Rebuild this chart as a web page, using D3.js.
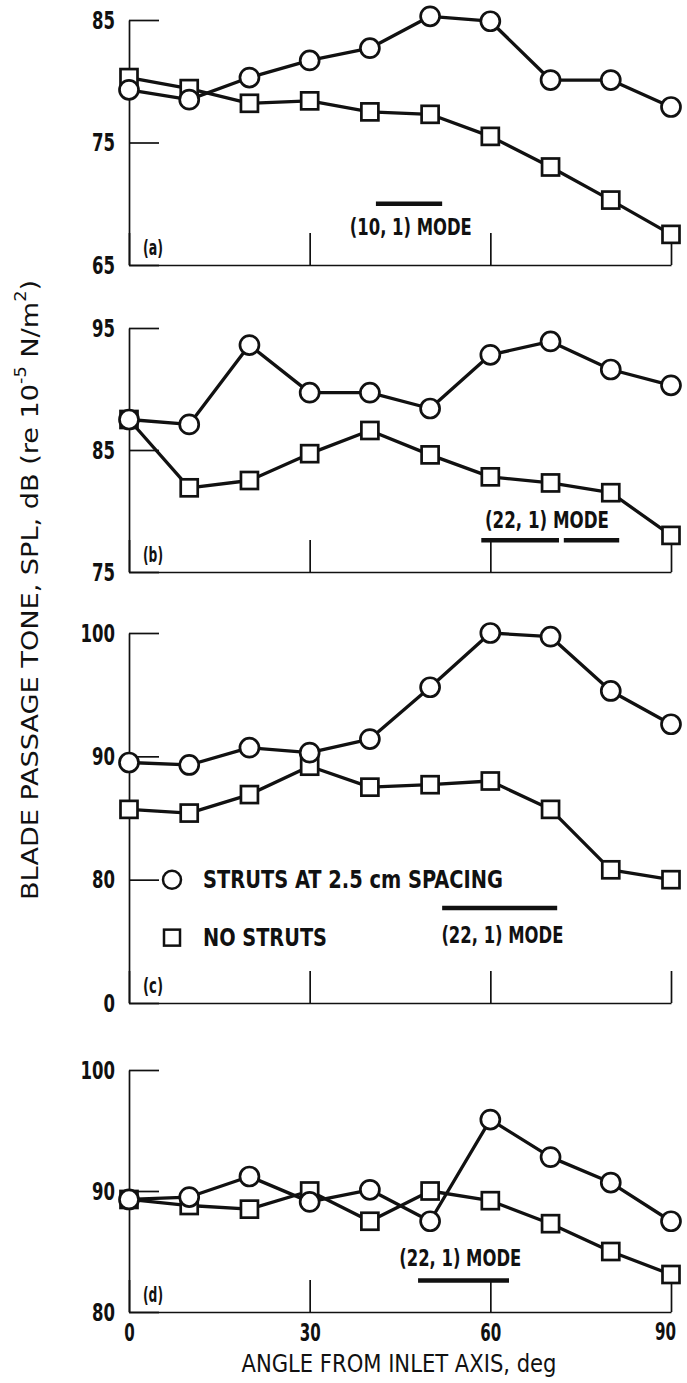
<!DOCTYPE html>
<html>
<head>
<meta charset="utf-8">
<script src="https://cdn.jsdelivr.net/npm/d3@7"></script>
<style>
  body { margin: 0; background: #fff; }
  svg text { font-family: "Liberation Sans Narrow", "DejaVu Sans Condensed", sans-serif; fill: #111; }
</style>
</head>
<body>
<div id="chart"></div>
<script>
// angle from inlet axis, deg
const angles = [0, 10, 20, 30, 40, 50, 60, 70, 80, 90];

// blade passage tone SPL, dB - struts at 2.5 cm spacing (circles) / no struts (squares)
const strutsA   = [79.3, 78.5, 80.3, 81.7, 82.7, 85.3, 84.9, 80.1, 80.1, 77.9];
const noStrutsA = [80.3, 79.4, 78.2, 78.4, 77.5, 77.3, 75.5, 73.0, 70.3, 67.5];
const strutsB   = [87.5, 87.1, 93.6, 89.7, 89.7, 88.4, 92.8, 93.9, 91.6, 90.3];
const noStrutsB = [87.5, 81.9, 82.5, 84.7, 86.6, 84.6, 82.8, 82.3, 81.5, 78.0];
const strutsC   = [89.5, 89.3, 90.7, 90.3, 91.4, 95.6, 100.0, 99.7, 95.3, 92.6];
const noStrutsC = [85.7, 85.4, 86.9, 89.2, 87.5, 87.7, 88.0, 85.7, 80.8, 80.0];
const strutsD   = [89.3, 89.5, 91.2, 89.1, 90.1, 87.5, 95.9, 92.8, 90.7, 87.5];
const noStrutsD = [89.3, 88.8, 88.5, 90.0, 87.5, 90.0, 89.2, 87.3, 85.0, 83.1];

// tick values and their printed labels
const xTicks = [0, 30, 60, 90];
const xTickLabels = ['0', '30', '60', '90'];
const yTicksA = [65, 75, 85];
const yTicksB = [75, 85, 95];
const yTicksC = [70, 80, 90, 100];
const yTickLabelsC = ['0', '80', '90', '100'];
const yTicksD = [80, 90, 100];

const panelTags = ['(a)', '(b)', '(c)', '(d)'];
const modeLabels = ['(10, 1) MODE', '(22, 1) MODE', '(22, 1) MODE', '(22, 1) MODE'];
// angular extent of the mode bars (deg)
const modeSpans = [[[41, 52]], [[58.5, 71.4], [72.2, 81.4]], [[52, 71.1]], [[48, 63.1]]];
const legendLabels = ['STRUTS AT 2.5 cm SPACING', 'NO STRUTS'];

const W = 687, H = 1383;
const svg = d3.select('#chart').append('svg').attr('width', W).attr('height', H);

const x = d3.scaleLinear().domain([0, 90]).range([129, 671]);

// squeeze text horizontally so it looks like the narrow typewriter face
function narrow(sel, perChar) {
  sel.each(function () {
    const t = d3.select(this);
    const n = t.text().length;
    if (n) t.attr('textLength', n * perChar).attr('lengthAdjust', 'spacingAndGlyphs');
  });
}

// layout for each panel
const panels = [
  { tag: panelTags[0], struts: strutsA, noStruts: noStrutsA, domain: [65, 85], range: [265, 20],
    ticks: yTicksA, labels: yTicksA.map(String), barY: 70.0, textPos: [46.8, 68.1], textLen: 122 },
  { tag: panelTags[1], struts: strutsB, noStruts: noStrutsB, domain: [75, 95], range: [572, 328],
    ticks: yTicksB, labels: yTicksB.map(String), barY: 77.6, textPos: [69.4, 79.3], textLen: 124 },
  { tag: panelTags[2], struts: strutsC, noStruts: noStrutsC, domain: [70, 100], range: [1003, 633],
    ticks: yTicksC, labels: yTickLabelsC, barY: 77.7, textPos: [62.0, 75.5], textLen: 122 },
  { tag: panelTags[3], struts: strutsD, noStruts: noStrutsD, domain: [80, 100], range: [1312, 1070],
    ticks: yTicksD, labels: yTicksD.map(String), barY: 82.6, textPos: [55.0, 84.5], textLen: 122 }
];

panels.forEach((p, i) => {
  const y = d3.scaleLinear().domain(p.domain).range(p.range);
  const g = svg.append('g');
  const last = i === panels.length - 1;

  // y axis, ticks pointing inward
  const ya = g.append('g')
    .attr('transform', `translate(${x(0)},0)`)
    .call(d3.axisLeft(y).tickValues(p.ticks).tickFormat((d, k) => p.labels[k])
      .tickSize(-30).tickSizeOuter(0).tickPadding(14));

  // x axis along the panel bottom
  const xa = g.append('g')
    .attr('transform', `translate(0,${y(p.domain[0])})`)
    .call(d3.axisBottom(x).tickValues(xTicks).tickFormat((d, k) => last ? xTickLabels[k] : '')
      .tickSize(-32).tickSizeOuter(0).tickPadding(8));

  [ya, xa].forEach(a => {
    a.selectAll('path, line').attr('stroke', '#111').attr('stroke-width', 1.7);
    a.selectAll('text').attr('font-size', 25).attr('font-weight', 'bold').attr('fill', '#111');
  });
  narrow(ya.selectAll('text'), 11.5);
  narrow(xa.selectAll('text'), 10.5);
  xa.selectAll('text').attr('dy', '0.85em');
  // keep the last x label clear of the right edge
  xa.selectAll('.tick:last-of-type text').attr('font-size', 24).attr('x', -6);

  // data lines
  const line = d3.line().x((d, k) => x(angles[k])).y(d => y(d));
  [p.noStruts, p.struts].forEach(s => {
    g.append('path').datum(s).attr('d', line)
      .attr('fill', 'none').attr('stroke', '#111').attr('stroke-width', 3.3)
      .attr('stroke-linejoin', 'round');
  });

  // markers
  g.selectAll('.sq').data(p.noStruts).enter().append('rect')
    .attr('x', (d, k) => x(angles[k]) - 8.5).attr('y', d => y(d) - 8.5)
    .attr('width', 17).attr('height', 17)
    .attr('fill', '#fff').attr('stroke', '#111').attr('stroke-width', 2.7);
  g.selectAll('.ci').data(p.struts).enter().append('circle')
    .attr('cx', (d, k) => x(angles[k])).attr('cy', d => y(d)).attr('r', 9.5)
    .attr('fill', '#fff').attr('stroke', '#111').attr('stroke-width', 2.7);

  // mode bar + label
  modeSpans[i].forEach(s => {
    g.append('line')
      .attr('x1', x(s[0])).attr('x2', x(s[1]))
      .attr('y1', y(p.barY)).attr('y2', y(p.barY))
      .attr('stroke', '#111').attr('stroke-width', 4.5);
  });
  g.append('text')
    .attr('x', x(p.textPos[0])).attr('y', y(p.textPos[1]))
    .attr('text-anchor', 'middle').attr('dominant-baseline', 'central')
    .attr('font-size', 23).attr('font-weight', 600)
    .attr('textLength', p.textLen).attr('lengthAdjust', 'spacingAndGlyphs')
    .text(modeLabels[i]);

  // panel tag
  g.append('text')
    .attr('x', x(0) + 14).attr('y', y(p.domain[0]) - 17)
    .attr('dominant-baseline', 'central').attr('font-size', 21).attr('font-weight', 600)
    .attr('textLength', 20).attr('lengthAdjust', 'spacingAndGlyphs')
    .text(p.tag);

  // legend lives in panel (c)
  if (i === 2) {
    const lx = 172;
    g.append('circle').attr('cx', lx).attr('cy', y(80)).attr('r', 9)
      .attr('fill', '#fff').attr('stroke', '#111').attr('stroke-width', 2.5);
    g.append('text').attr('x', lx + 31).attr('y', y(80))
      .attr('dominant-baseline', 'central').attr('font-size', 24).attr('font-weight', 600)
      .attr('textLength', 300).attr('lengthAdjust', 'spacingAndGlyphs')
      .text(legendLabels[0]);
    g.append('rect').attr('x', lx - 8).attr('y', y(75.3) - 8).attr('width', 16).attr('height', 16)
      .attr('fill', '#fff').attr('stroke', '#111').attr('stroke-width', 2.5);
    g.append('text').attr('x', lx + 31).attr('y', y(75.3))
      .attr('dominant-baseline', 'central').attr('font-size', 24).attr('font-weight', 600)
      .attr('textLength', 124).attr('lengthAdjust', 'spacingAndGlyphs')
      .text(legendLabels[1]);
  }
});

// x axis title
svg.append('text')
  .attr('x', 399).attr('y', 1364)
  .attr('text-anchor', 'middle').attr('dominant-baseline', 'central')
  .attr('font-size', 24)
  .attr('textLength', 315).attr('lengthAdjust', 'spacingAndGlyphs')
  .text('ANGLE FROM INLET AXIS, deg');

// y axis title with superscripts
const yt = svg.append('text')
  .attr('transform', 'translate(30,590) rotate(-90)')
  .attr('text-anchor', 'middle').attr('dominant-baseline', 'central')
  .attr('font-size', 23)
  .attr('textLength', 620).attr('lengthAdjust', 'spacingAndGlyphs');
yt.append('tspan').text('BLADE PASSAGE TONE, SPL, dB (re 10');
yt.append('tspan').attr('baseline-shift', 'super').attr('font-size', 15).text('-5');
yt.append('tspan').text(' N/m');
yt.append('tspan').attr('baseline-shift', 'super').attr('font-size', 15).text('2');
yt.append('tspan').text(')');
</script>
</body>
</html>
